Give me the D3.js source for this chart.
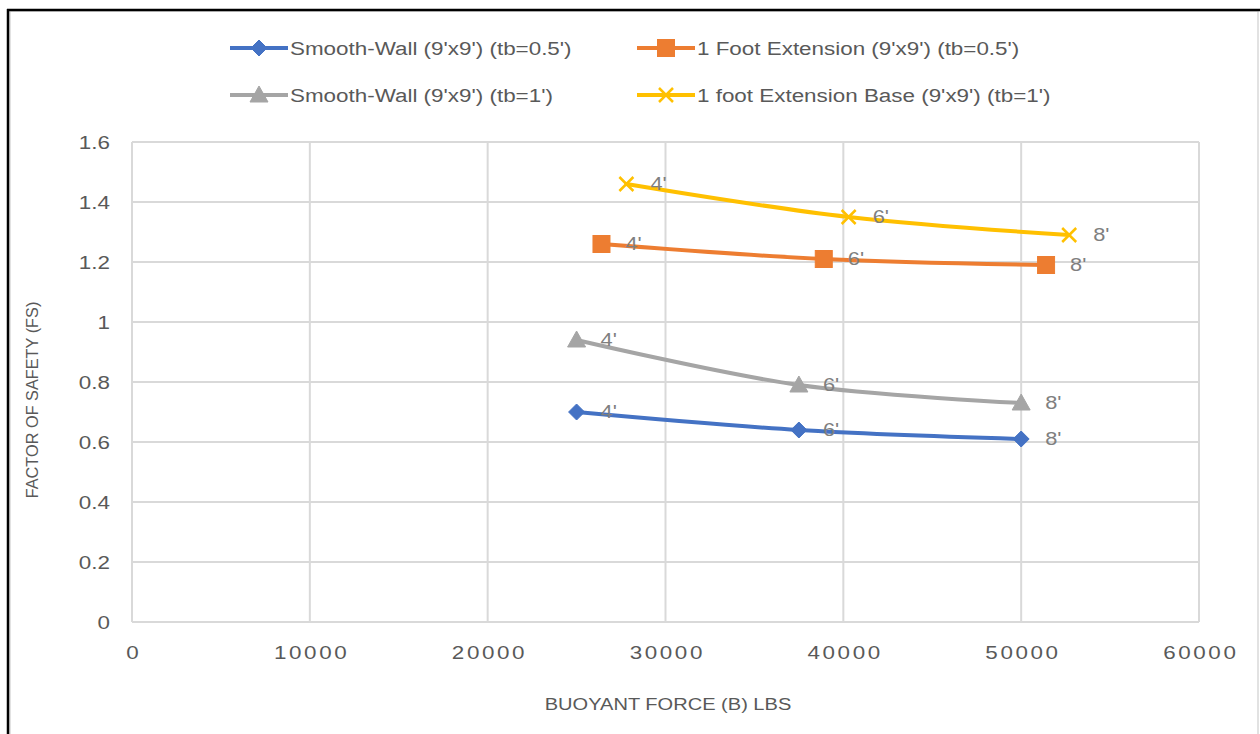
<!DOCTYPE html>
<html>
<head>
<meta charset="utf-8">
<script src="https://cdn.jsdelivr.net/npm/d3@7"></script>
<style>
  html, body { margin: 0; padding: 0; background: #fff; }
  svg { display: block; }
  text { font-family: "Liberation Sans", Arial, sans-serif; }
</style>
</head>
<body>
<svg id="chart" width="1260" height="734"></svg>
<script>
// Buoyant force (lbs) and factor of safety for each configuration
const seriesNames = [
  "Smooth-Wall (9'x9') (tb=0.5')",
  "1 Foot Extension (9'x9') (tb=0.5')",
  "Smooth-Wall (9'x9') (tb=1')",
  "1 foot Extension Base (9'x9') (tb=1')"
];
const smoothHalfX = [25000, 37500, 50000];
const smoothHalfY = [0.70, 0.64, 0.61];
const extHalfX = [26400, 38900, 51400];
const extHalfY = [1.26, 1.21, 1.19];
const smoothOneX = [25000, 37500, 50000];
const smoothOneY = [0.94, 0.79, 0.73];
const extOneX = [27800, 40300, 52700];
const extOneY = [1.46, 1.35, 1.29];
const depthLabels = ["4'", "6'", "8'"];
const xTicks = [0, 10000, 20000, 30000, 40000, 50000, 60000];
const yTicks = [0, 0.2, 0.4, 0.6, 0.8, 1, 1.2, 1.4, 1.6];

const colors = ["#4472C4", "#ED7D31", "#A5A5A5", "#FFC000"];
const markers = ["diamond", "square", "triangle", "cross"];

const series = [
  { name: seriesNames[0], xs: smoothHalfX, ys: smoothHalfY },
  { name: seriesNames[1], xs: extHalfX, ys: extHalfY },
  { name: seriesNames[2], xs: smoothOneX, ys: smoothOneY },
  { name: seriesNames[3], xs: extOneX, ys: extOneY }
].map((s, i) => ({
  ...s,
  color: colors[i],
  marker: markers[i],
  points: s.xs.map((x, j) => ({ x, y: s.ys[j], label: depthLabels[j] }))
}));

// Horizontal text is drawn slightly widened
const SX = 1.18;
const placeText = (sel, px, py) =>
  sel.attr("transform", (d, i) => `translate(${typeof px === "function" ? px(d, i) : px},${typeof py === "function" ? py(d, i) : py}) scale(${SX},1)`);

const svg = d3.select("#chart");

// Outer frame: thin grey chart border with a dark edge on the top and left
svg.append("rect").attr("x", 10).attr("y", 11).attr("width", 1248).attr("height", 730)
  .attr("fill", "#fff").attr("stroke", "#d9d9d9").attr("stroke-width", 1.5);
svg.append("line").attr("x1", 8).attr("x2", 8).attr("y1", 9).attr("y2", 734)
  .attr("stroke", "#000").attr("stroke-width", 2.5);
svg.append("line").attr("x1", 7).attr("x2", 1260).attr("y1", 10).attr("y2", 10)
  .attr("stroke", "#000").attr("stroke-width", 2.5);

const x = d3.scaleLinear().domain([0, 60000]).range([132, 1199]);
const y = d3.scaleLinear().domain([0, 1.6]).range([622, 142]);

// Gridlines
const grid = svg.append("g");
grid.selectAll(".gx").data(xTicks).join("line")
  .attr("x1", d => x(d)).attr("x2", d => x(d))
  .attr("y1", y(0)).attr("y2", y(1.6))
  .attr("stroke", "#d9d9d9").attr("stroke-width", 2);
grid.selectAll(".gy").data(yTicks).join("line")
  .attr("x1", x(0)).attr("x2", x(60000))
  .attr("y1", d => y(d)).attr("y2", d => y(d))
  .attr("stroke", "#d9d9d9").attr("stroke-width", 2);

// Axes (labels only, lines come from the grid)
const xAxis = svg.append("g").attr("transform", `translate(0,${y(0) + 30})`)
  .call(d3.axisBottom(x).tickValues(xTicks).tickSize(0).tickPadding(0).tickFormat(d3.format("d")));
const yAxis = svg.append("g").attr("transform", `translate(${x(0) - 22},0)`)
  .call(d3.axisLeft(y).tickValues(yTicks).tickSize(0).tickPadding(0).tickFormat(d => String(+d.toFixed(1))));
[xAxis, yAxis].forEach(a => {
  a.select(".domain").remove();
  a.selectAll("text").attr("fill", "#595959").style("font-size", "19px")
    .style("font-family", "'Liberation Sans', sans-serif")
    .attr("x", 0).attr("y", 0).attr("dy", "0.35em")
    .attr("transform", `scale(${SX},1)`);
});
xAxis.selectAll("text").style("letter-spacing", "2.2px").attr("dx", "1.1px");

// Axis titles
placeText(svg.append("text"), 668, 704).attr("text-anchor", "middle").attr("dy", "0.35em")
  .attr("fill", "#595959").style("font-size", "17px").text("BUOYANT FORCE (B) LBS");
svg.append("text").attr("transform", "translate(38,400) rotate(-90)").attr("text-anchor", "middle")
  .attr("fill", "#595959").style("font-size", "16.3px").text("FACTOR OF SAFETY (FS)");

// Marker shapes
function drawMarker(g, type, color, cx, cy) {
  if (type === "diamond") {
    g.append("path").attr("d", `M${cx},${cy - 8}L${cx + 8},${cy}L${cx},${cy + 8}L${cx - 8},${cy}Z`)
      .attr("fill", color).attr("stroke", color).attr("stroke-width", 1);
  } else if (type === "square") {
    g.append("rect").attr("x", cx - 8.5).attr("y", cy - 8.5).attr("width", 17).attr("height", 17)
      .attr("fill", color).attr("stroke", color).attr("stroke-width", 1);
  } else if (type === "triangle") {
    g.append("path").attr("d", `M${cx},${cy - 9}L${cx + 9},${cy + 7}L${cx - 9},${cy + 7}Z`)
      .attr("fill", color).attr("stroke", color).attr("stroke-width", 1);
  } else {
    g.append("path").attr("d", `M${cx - 7},${cy - 7}L${cx + 7},${cy + 7}M${cx - 7},${cy + 7}L${cx + 7},${cy - 7}`)
      .attr("fill", "none").attr("stroke", color).attr("stroke-width", 2.5);
  }
}

const line = d3.line().x(d => x(d.x)).y(d => y(d.y)).curve(d3.curveCatmullRom.alpha(0.5));

const plot = svg.append("g");
series.forEach(s => {
  const g = plot.append("g");
  g.append("path").datum(s.points).attr("d", line)
    .attr("fill", "none").attr("stroke", s.color).attr("stroke-width", 4)
    .attr("stroke-linecap", "round");
  s.points.forEach(p => drawMarker(g, s.marker, s.color, x(p.x), y(p.y)));
});

// Depth labels beside each point
const labels = svg.append("g");
series.forEach(s => {
  placeText(labels.selectAll(null).data(s.points).join("text"), d => x(d.x) + 24, d => y(d.y))
    .attr("dy", "0.35em")
    .attr("fill", "#7f7f7f").style("font-size", "18.5px").text(d => d.label);
});

// Legend, two rows of two entries
const legendPos = [[230, 48], [637, 48], [230, 95], [637, 95]];
const legend = svg.append("g");
series.forEach((s, i) => {
  const [lx, ly] = legendPos[i];
  const g = legend.append("g");
  g.append("line").attr("x1", lx).attr("x2", lx + 58).attr("y1", ly).attr("y2", ly)
    .attr("stroke", s.color).attr("stroke-width", 4);
  drawMarker(g, s.marker, s.color, lx + 29, ly);
  placeText(g.append("text"), lx + 60, ly).attr("dy", "0.35em")
    .attr("fill", "#595959").style("font-size", "19px").text(s.name);
});
</script>
</body>
</html>
